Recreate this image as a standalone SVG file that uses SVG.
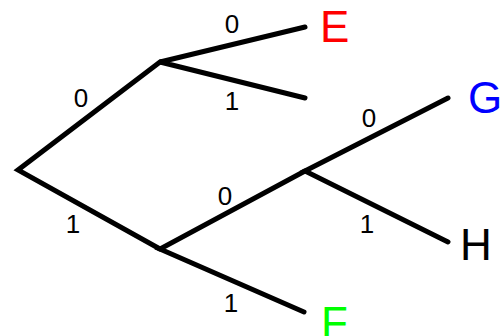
<svg xmlns="http://www.w3.org/2000/svg" width="501" height="336" viewBox="0 0 501 336">
<style>
.e{stroke:#000;stroke-width:5;stroke-linecap:round;fill:none}
.d{font-family:"Liberation Sans",Arial,sans-serif;font-size:26px;fill:#000;text-anchor:middle}
.n{font-family:"Liberation Sans",Arial,sans-serif;font-size:44px}
</style>
<rect width="501" height="336" fill="#fff"/>
<g id="connectors">
<polyline class="e" points="160,62 18,170 160,249"/>
<polyline class="e" points="305,27 160,62 305,98"/>
<polyline class="e" points="305,171 160,249 304,312"/>
<polyline class="e" points="448,98 305,171 448,242"/>
<text class="d" x="232" y="33">0</text>
<text class="d" x="232" y="110">1</text>
<text class="d" x="81" y="107">0</text>
<text class="d" x="73" y="233">1</text>
<text class="d" x="225" y="205">0</text>
<text class="d" x="231" y="312">1</text>
<text class="d" x="369" y="127">0</text>
<text class="d" x="367" y="233">1</text>
</g>
<g id="E"><text class="n" x="320" y="42" fill="#ff0000">E</text></g>
<g id="G"><text class="n" x="468" y="113" fill="#0000ff">G</text></g>
<g id="H"><text class="n" x="460" y="260" fill="#000">H</text></g>
<g id="F"><text class="n" x="321" y="338" fill="#00ff00">F</text></g>
</svg>
